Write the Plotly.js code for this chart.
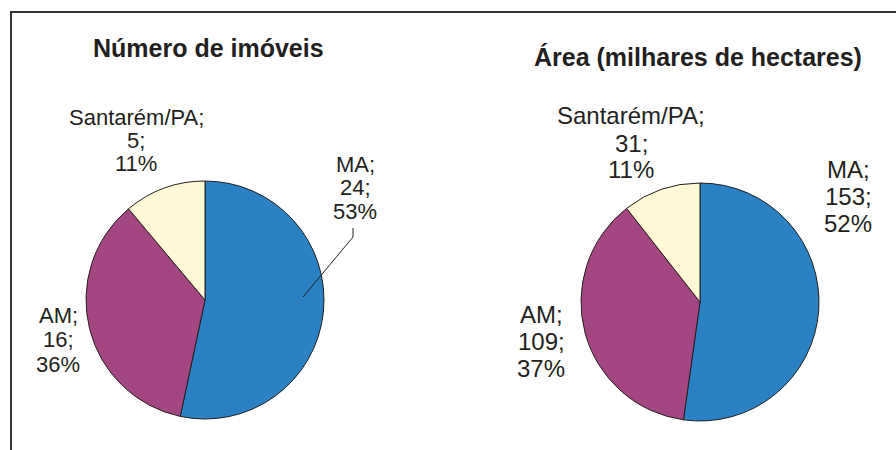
<!DOCTYPE html>
<html>
<head>
<meta charset="utf-8">
<script src="https://cdn.plot.ly/plotly-3.0.1.min.js"></script>
<style>html,body{margin:0;padding:0;background:#fff;}#chart{width:896px;height:450px;}</style>
</head>
<body>
<div id="chart"></div>
<script>
// ---- data ----
const categories = ["MA", "AM", "Santarém/PA"];
const imoveisValues = [24, 16, 5];
const areaValues = [153, 109, 31];
const titles = ["Número de imóveis", "Área (milhares de hectares)"];
const sliceColors = ["#2a82c5", "#a34681", "#fff9d6"];

// ---- layout helpers ----
const W = 896, H = 450;
const px = x => x / W;
const py = y => 1 - y / H;
const textColor = "#231f20";
const fontFam = "Liberation Sans, Arial, Helvetica, sans-serif";

function pct(values, i) {
  const t = values.reduce((a, b) => a + b, 0);
  return Math.round(values[i] / t * 100) + "%";
}

function pieTrace(values, cx, cy, r) {
  return {
    type: "pie",
    values: values,
    labels: categories,
    sort: false,
    direction: "clockwise",
    rotation: 0,
    textinfo: "none",
    hoverinfo: "label+value+percent",
    showlegend: false,
    marker: { colors: sliceColors, line: { color: textColor, width: 1 } },
    domain: { x: [px(cx - r), px(cx + r)], y: [py(cy + r), py(cy - r)] }
  };
}

const annotations = [];
function addLabel(values, i, cx, middles, size) {
  const lines = [categories[i] + ";", values[i] + ";", pct(values, i)];
  lines.forEach((t, k) => {
    annotations.push({
      xref: "paper", yref: "paper", x: px(cx), y: py(middles[k]),
      xanchor: "center", yanchor: "middle", showarrow: false,
      text: t, font: { family: fontFam, size: size, color: textColor }
    });
  });
}

// left pie labels
addLabel(imoveisValues, 2, 136, [117.5, 140.5, 163.5], 22);
addLabel(imoveisValues, 0, 355, [164.5, 187.5, 211.5], 22);
addLabel(imoveisValues, 1, 58, [315.5, 339.5, 364.5], 22);
// right pie labels
addLabel(areaValues, 2, 631, [115.5, 143.5, 169.5], 24);
addLabel(areaValues, 0, 848, [169.5, 196.5, 223.5], 24);
addLabel(areaValues, 1, 541, [314.5, 341.5, 368.5], 24);

// titles
annotations.push({
  xref: "paper", yref: "paper", x: px(208), y: py(48), xanchor: "center", yanchor: "middle",
  showarrow: false, text: "<b>" + titles[0] + "</b>",
  font: { family: fontFam, size: 25, color: textColor }
});
annotations.push({
  xref: "paper", yref: "paper", x: px(698), y: py(57), xanchor: "center", yanchor: "middle",
  showarrow: false, text: "<b>" + titles[1] + "</b>",
  font: { family: fontFam, size: 25, color: textColor }
});

const shapes = [
  // frame (left and top edges)
  { type: "line", xref: "paper", yref: "paper", x0: px(11), y0: py(12), x1: px(11), y1: py(452),
    line: { color: "#333333", width: 2 } },
  { type: "line", xref: "paper", yref: "paper", x0: px(10), y0: py(12), x1: px(898), y1: py(12),
    line: { color: "#333333", width: 2 } },
  // leader line for MA label (left pie)
  { type: "path", xref: "paper", yref: "paper",
    path: "M " + px(303) + " " + py(297) + " L " + px(353) + " " + py(237) + " L " + px(353) + " " + py(228),
    line: { color: textColor, width: 1 } }
];

const data = [
  pieTrace(imoveisValues, 205, 300, 119),
  pieTrace(areaValues, 700, 302, 119)
];

const layout = {
  width: W, height: H,
  margin: { l: 0, r: 0, t: 0, b: 0, pad: 0 },
  paper_bgcolor: "#ffffff",
  plot_bgcolor: "#ffffff",
  font: { family: fontFam, color: textColor },
  annotations: annotations,
  shapes: shapes,
  showlegend: false
};

Plotly.newPlot("chart", data, layout, { displayModeBar: false, staticPlot: true });
</script>
</body>
</html>
